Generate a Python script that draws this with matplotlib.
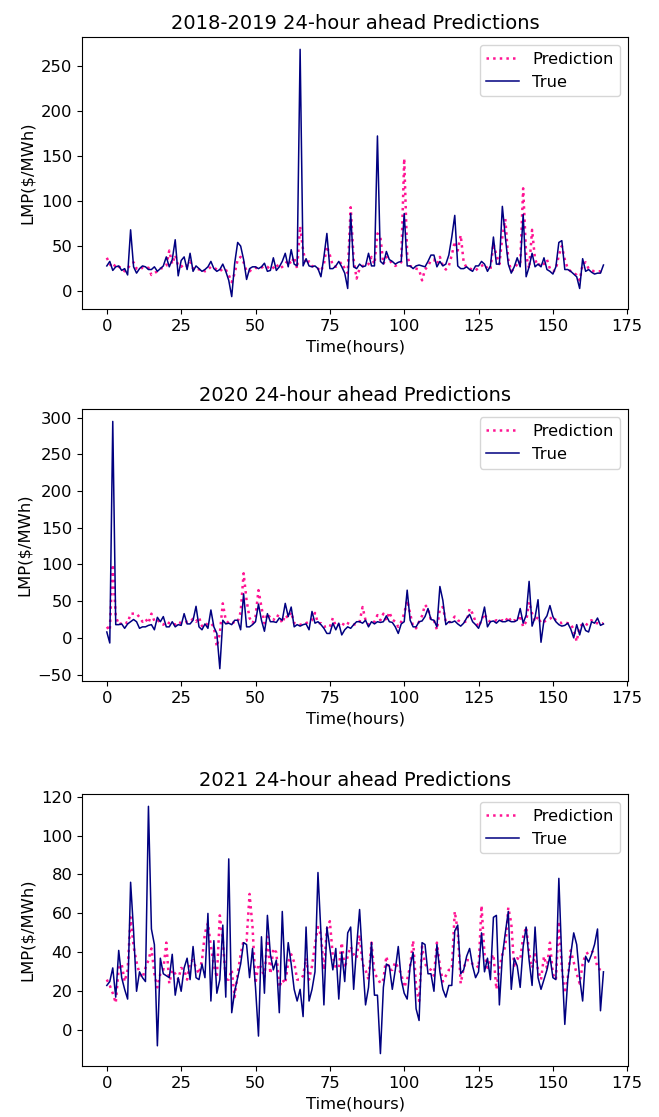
import numpy as np
import matplotlib
matplotlib.use('Agg')
import matplotlib.pyplot as plt

###---Data---###
titles = ['2018-2019 24-hour ahead Predictions',
          '2020 24-hour ahead Predictions',
          '2021 24-hour ahead Predictions']

true_2018 = [28, 33, 23, 27, 28, 23, 25, 18, 68, 27,
             20, 25, 28, 27, 24, 24, 27, 22, 25, 28,
             38, 27, 35, 57, 17, 34, 38, 24, 42, 22,
             28, 25, 22, 24, 27, 33, 25, 22, 24, 30,
             22, 12, -6, 31, 54, 50, 35, 13, 25, 27,
             27, 25, 27, 31, 22, 23, 37, 23, 27, 33,
             42, 27, 46, 30, 28, 268, 28, 36, 28, 27,
             28, 25, 16, 38, 64, 25, 25, 28, 33, 27,
             20, 3, 86, 27, 25, 30, 27, 28, 42, 28,
             28, 172, 33, 30, 44, 35, 33, 30, 32, 33,
             86, 28, 28, 25, 28, 29, 28, 27, 33, 40,
             40, 27, 33, 28, 30, 40, 60, 84, 28, 25,
             25, 27, 24, 22, 28, 28, 33, 30, 22, 28,
             60, 30, 30, 94, 60, 30, 20, 27, 37, 27,
             85, 16, 27, 42, 27, 30, 27, 37, 24, 22,
             19, 27, 54, 56, 24, 24, 22, 19, 16, 3,
             36, 22, 24, 21, 19, 20, 20, 29]
pred_2018 = [37, 30, 26, 30, 27, 26, 22, 25, 30, 32,
             25, 24, 26, 25, 26, 18, 20, 22, 25, 26,
             28, 45, 30, 40, 28, 27, 30, 28, 33, 25,
             26, 24, 25, 22, 24, 27, 26, 24, 22, 25,
             24, 18, 10, 20, 35, 38, 32, 22, 22, 25,
             26, 25, 26, 28, 27, 24, 26, 30, 25, 27,
             30, 35, 30, 38, 25, 72, 45, 30, 33, 28,
             26, 25, 22, 30, 50, 40, 28, 27, 30, 32,
             25, 20, 93, 35, 14, 25, 28, 28, 30, 38,
             30, 64, 60, 30, 38, 35, 30, 28, 30, 32,
             147, 40, 28, 26, 25, 24, 12, 24, 28, 34,
             35, 30, 38, 28, 24, 28, 40, 55, 45, 62,
             32, 26, 25, 24, 23, 26, 28, 30, 25, 24,
             53, 40, 30, 60, 80, 35, 22, 25, 30, 30,
             114, 40, 25, 68, 35, 28, 32, 30, 35, 25,
             22, 24, 40, 50, 35, 25, 22, 20, 18, 12,
             30, 32, 25, 23, 22, 22, 22, 26]

true_2020 = [8, -7, 295, 18, 18, 19, 13, 19, 22, 25,
             22, 13, 15, 15, 17, 18, 11, 28, 22, 29,
             15, 15, 22, 15, 18, 17, 33, 19, 19, 24,
             43, 15, 11, 19, 13, 38, 15, 6, -42, 24,
             19, 20, 18, 24, 24, 11, 60, 15, 15, 18,
             22, 46, 24, 9, 33, 22, 22, 21, 27, 24,
             47, 29, 42, 15, 18, 16, 18, 19, 11, 36,
             20, 22, 18, 13, 6, 6, 20, 11, 20, 4,
             11, 15, 13, 18, 22, 22, 20, 24, 15, 22,
             19, 22, 21, 22, 30, 22, 21, 15, 6, 19,
             22, 65, 24, 15, 15, 22, 23, 29, 40, 25,
             24, 15, 70, 51, 18, 22, 21, 23, 19, 16,
             20, 27, 32, 22, 18, 13, 24, 42, 15, 22,
             23, 20, 24, 22, 22, 24, 22, 22, 24, 40,
             20, 31, 77, 16, 28, 52, -6, 24, 30, 44,
             29, 22, 18, 16, 17, 20, 12, 0, 18, 4,
             20, 10, 8, 22, 20, 27, 17, 19]
pred_2020 = [15, 10, 100, 30, 18, 20, 22, 20, 33, 33,
             33, 28, 22, 26, 20, 33, 23, 25, 20, 18,
             22, 20, 20, 18, 22, 20, 20, 22, 22, 26,
             22, 28, 16, 20, 18, 20, 15, -12, 6, 47,
             24, 20, 22, 20, 22, 35, 88, 51, 27, 20,
             29, 65, 42, 20, 33, 27, 24, 31, 29, 20,
             31, 27, 35, 20, 20, 18, 18, 20, 22, 24,
             34, 20, 20, 15, 16, 15, 27, 16, 18, 15,
             22, 20, 18, 18, 19, 22, 42, 24, 18, 20,
             22, 31, 24, 33, 24, 35, 25, 22, 15, 22,
             33, 51, 33, 15, 13, 22, 30, 45, 40, 24,
             24, 11, 40, 42, 22, 20, 24, 29, 24, 22,
             22, 22, 40, 33, 22, 15, 24, 33, 24, 22,
             22, 24, 22, 24, 22, 29, 22, 24, 22, 31,
             15, 22, 49, 33, 22, 29, 20, 22, 24, 26,
             29, 24, 22, 20, 21, 20, 19, 11, -5, 16,
             18, 16, 22, 24, 20, 20, 19, 20]

true_2021 = [23, 25, 32, 17, 41, 27, 21, 16, 76, 51,
             20, 30, 27, 25, 115, 52, 44, -8, 37, 29,
             28, 27, 39, 18, 27, 20, 32, 37, 26, 43,
             27, 26, 34, 27, 60, 15, 46, 19, 26, 54,
             17, 88, 9, 20, 27, 34, 45, 44, 27, 42,
             22, -3, 48, 19, 59, 39, 31, 36, 9, 61,
             26, 45, 34, 21, 15, 21, 7, 53, 15, 21,
             30, 81, 50, 13, 53, 42, 31, 42, 16, 40,
             25, 50, 53, 21, 43, 62, 36, 13, 22, 45,
             18, 18, -12, 22, 34, 33, 21, 31, 43, 26,
             19, 16, 33, 40, 11, 5, 45, 44, 29, 29,
             20, 44, 30, 21, 17, 23, 23, 51, 54, 29,
             31, 38, 42, 33, 27, 30, 50, 30, 37, 26,
             58, 59, 13, 38, 50, 61, 21, 37, 33, 22,
             43, 53, 36, 23, 53, 27, 21, 26, 31, 38,
             27, 26, 78, 36, 3, 26, 39, 50, 44, 27,
             15, 38, 35, 39, 44, 52, 10, 30]
pred_2021 = [26, 23, 19, 14, 32, 34, 25, 31, 58, 43,
             35, 29, 27, 32, 36, 42, 29, 22, 29, 31,
             45, 24, 31, 29, 26, 32, 31, 26, 35, 36,
             32, 29, 36, 50, 55, 43, 33, 27, 59, 46,
             26, 26, 31, 17, 29, 39, 46, 46, 70, 53,
             24, 34, 32, 27, 48, 29, 42, 40, 22, 26,
             24, 35, 39, 35, 26, 26, 28, 37, 26, 33,
             44, 53, 49, 31, 52, 56, 38, 32, 32, 45,
             32, 38, 43, 39, 37, 49, 34, 31, 26, 45,
             29, 27, 24, 26, 38, 31, 31, 35, 32, 29,
             22, 26, 33, 46, 22, 15, 43, 34, 32, 31,
             28, 45, 33, 25, 28, 31, 31, 61, 51, 24,
             32, 36, 36, 34, 34, 32, 64, 39, 32, 36,
             39, 21, 32, 39, 43, 63, 55, 32, 37, 36,
             48, 53, 40, 32, 39, 31, 26, 38, 32, 45,
             29, 26, 56, 32, 19, 27, 41, 35, 29, 24,
             34, 39, 40, 41, 39, 32, 31, 30]

preds = [pred_2018, pred_2020, pred_2021]
trues = [true_2018, true_2020, true_2021]

###---Plot---###
fig = plt.figure(figsize=(6.59, 11.17), dpi=100)
# panels were stacked from separate figures, so place them by hand
boxes = [[0.1244, 0.7234, 0.829, 0.2435],
         [0.1244, 0.3903, 0.829, 0.2435],
         [0.1244, 0.0457, 0.829, 0.2435]]

for i in range(3):
    ax = fig.add_axes(boxes[i])
    hours = np.arange(len(trues[i]))
    ax.plot(hours, preds[i], linestyle=':', color='deeppink', linewidth=1.8, label='Prediction')
    ax.plot(hours, trues[i], linestyle='-', color='navy', linewidth=1.1, label='True')
    ax.set_title(titles[i], fontsize=14)
    ax.set_xlabel('Time(hours)', fontsize=11.8)
    ax.set_ylabel('LMP(\\$/MWh)', fontsize=11.8)
    ax.tick_params(labelsize=11.8)
    ax.set_xticks([0, 25, 50, 75, 100, 125, 150, 175])
    ax.legend(loc='upper right', fontsize=11.8)

fig.savefig('out.png', dpi=100)
